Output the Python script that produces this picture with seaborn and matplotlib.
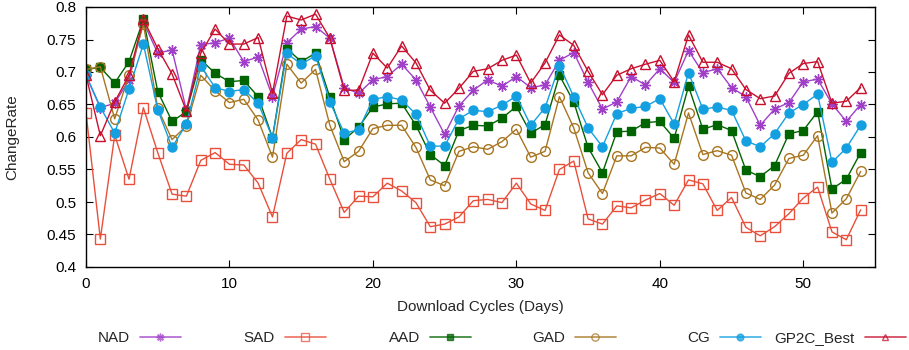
import numpy as np
import pandas as pd
import seaborn as sns
import matplotlib
matplotlib.use('Agg')
import matplotlib.pyplot as plt
from matplotlib.lines import Line2D
from matplotlib.ticker import FormatStrFormatter, MultipleLocator

# data
days = list(range(55))

nad = [0.695, 0.645, 0.652, 0.688, 0.777, 0.729, 0.734, 0.641, 0.742, 0.745, 0.752,
       0.716, 0.723, 0.662, 0.745, 0.766, 0.770, 0.752, 0.676, 0.667, 0.688,
       0.693, 0.712, 0.688, 0.646, 0.604, 0.648, 0.672, 0.688, 0.678, 0.693,
       0.676, 0.680, 0.718, 0.730, 0.684, 0.643, 0.654, 0.693, 0.680, 0.705,
       0.684, 0.733, 0.699, 0.705, 0.676, 0.662, 0.618, 0.643, 0.653, 0.685,
       0.689, 0.651, 0.624, 0.650]
sad = [0.637, 0.443, 0.603, 0.535, 0.645, 0.576, 0.512, 0.509, 0.564, 0.576, 0.558,
       0.557, 0.529, 0.477, 0.575, 0.596, 0.589, 0.535, 0.484, 0.509, 0.508,
       0.529, 0.517, 0.499, 0.462, 0.466, 0.477, 0.502, 0.504, 0.499, 0.529,
       0.497, 0.487, 0.550, 0.563, 0.474, 0.466, 0.494, 0.491, 0.503, 0.513,
       0.495, 0.534, 0.528, 0.487, 0.507, 0.461, 0.448, 0.462, 0.482, 0.506,
       0.523, 0.454, 0.442, 0.488]
aad = [0.704, 0.707, 0.683, 0.716, 0.781, 0.670, 0.624, 0.639, 0.719, 0.698, 0.685,
       0.687, 0.662, 0.599, 0.736, 0.716, 0.729, 0.661, 0.596, 0.615, 0.646,
       0.651, 0.652, 0.618, 0.573, 0.556, 0.610, 0.618, 0.617, 0.629, 0.647,
       0.606, 0.619, 0.695, 0.654, 0.584, 0.545, 0.608, 0.609, 0.622, 0.624,
       0.598, 0.678, 0.612, 0.619, 0.610, 0.549, 0.539, 0.556, 0.605, 0.610,
       0.639, 0.520, 0.535, 0.576]
gad = [0.704, 0.708, 0.628, 0.695, 0.774, 0.644, 0.596, 0.617, 0.695, 0.671, 0.653,
       0.658, 0.626, 0.569, 0.712, 0.683, 0.704, 0.618, 0.562, 0.578, 0.613,
       0.618, 0.618, 0.584, 0.534, 0.525, 0.578, 0.585, 0.581, 0.593, 0.612,
       0.569, 0.578, 0.662, 0.614, 0.545, 0.513, 0.571, 0.571, 0.584, 0.583,
       0.558, 0.637, 0.573, 0.579, 0.572, 0.514, 0.504, 0.526, 0.567, 0.572,
       0.602, 0.483, 0.505, 0.547]
cg = [0.695, 0.646, 0.606, 0.674, 0.743, 0.642, 0.584, 0.620, 0.709, 0.676, 0.670,
      0.673, 0.652, 0.599, 0.729, 0.712, 0.725, 0.654, 0.606, 0.611, 0.658,
      0.662, 0.657, 0.635, 0.586, 0.586, 0.628, 0.641, 0.639, 0.649, 0.663,
      0.618, 0.645, 0.710, 0.662, 0.614, 0.585, 0.636, 0.644, 0.647, 0.659,
      0.620, 0.699, 0.643, 0.646, 0.641, 0.594, 0.585, 0.605, 0.637, 0.650,
      0.666, 0.561, 0.583, 0.618]
gp2c_best = [0.695, 0.602, 0.654, 0.695, 0.781, 0.736, 0.697, 0.640, 0.729, 0.766, 0.743,
             0.743, 0.753, 0.667, 0.786, 0.780, 0.789, 0.752, 0.672, 0.672, 0.729,
             0.706, 0.740, 0.714, 0.672, 0.652, 0.675, 0.701, 0.705, 0.718, 0.726,
             0.683, 0.714, 0.757, 0.741, 0.701, 0.665, 0.695, 0.705, 0.712, 0.718,
             0.685, 0.757, 0.715, 0.715, 0.705, 0.673, 0.659, 0.663, 0.698, 0.713,
             0.716, 0.652, 0.655, 0.676]

series_names = ['NAD', 'SAD', 'AAD', 'GAD', 'CG', 'GP2C_Best']
series_values = [nad, sad, aad, gad, cg, gp2c_best]

# style per series: colour, marker, size, filled
styles = {
    'NAD': ('#a040c8', (8, 2, 0), 7.5, True),
    'SAD': ('#e8503c', 's', 7, False),
    'AAD': ('#006400', 's', 5.5, True),
    'GAD': ('#a87520', 'o', 7, False),
    'CG': ('#14a0e0', 'o', 6.5, True),
    'GP2C_Best': ('#c8102e', '^', 6.5, False),
}

sns.set_theme(style='ticks')
plt.rcParams['font.family'] = ['Liberation Sans', 'DejaVu Sans']
fontsize = 11

fig = plt.figure(figsize=(9.09, 3.5), dpi=100)
ax = fig.add_axes([86 / 909, 1 - 267 / 350, 789 / 909, 260 / 350])

for name, vals in zip(series_names, series_values):
    df = pd.DataFrame({'Day': days, 'ChangeRate': vals})
    color, marker, ms, filled = styles[name]
    sns.lineplot(data=df, x='Day', y='ChangeRate', ax=ax, color=color,
                 marker=marker, markersize=ms, linewidth=1.0, errorbar=None,
                 markerfacecolor=color if filled else 'none',
                 markeredgecolor=color, markeredgewidth=1.0)

ax.set_xlim(0, 55)
ax.set_ylim(0.4, 0.8)
ax.xaxis.set_major_locator(MultipleLocator(10))
ax.yaxis.set_major_locator(MultipleLocator(0.05))
ax.yaxis.set_major_formatter(FormatStrFormatter('%g'))
ax.tick_params(direction='in', length=5, width=0.8, top=True, right=True,
               labelsize=fontsize, colors='black', pad=7)
for sp in ax.spines.values():
    sp.set_visible(True)
    sp.set_color('black')
    sp.set_linewidth(1.0)

ax.set_xlabel('Download Cycles (Days)', fontsize=fontsize)
ax.set_ylabel('ChangeRate', fontsize=fontsize)
ax.xaxis.set_label_coords(0.5, -0.125)
ax.yaxis.set_label_coords(-0.085, 0.5)

# gnuplot style key: text then sample, right aligned columns
right_edges = [181, 326, 471, 616, 761, 906]
for name, xr in zip(series_names, right_edges):
    color, marker, ms, filled = styles[name]
    h = Line2D([], [], color=color, alpha=0.75, linewidth=1.3, marker=marker,
               markersize=ms * 0.75, markerfacecolor=color if filled else 'none',
               markeredgecolor=color, markeredgewidth=1.0)
    fig.legend([h], [name], loc='center right', bbox_to_anchor=(xr / 909, 1 - 338 / 350),
               markerfirst=False, frameon=False, fontsize=fontsize,
               handlelength=2.7, handletextpad=0.65, borderpad=0, borderaxespad=0)

fig.savefig('out.png', dpi=100)
